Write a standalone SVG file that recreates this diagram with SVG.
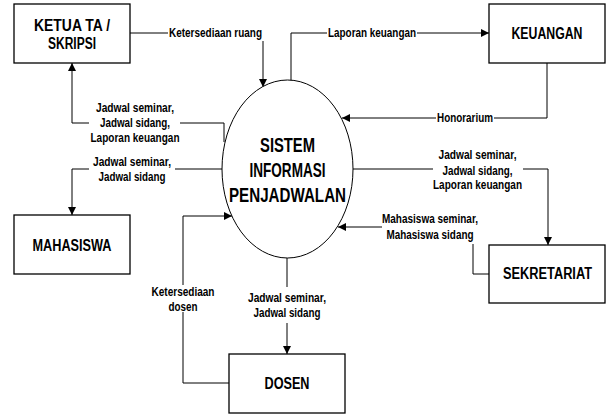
<svg xmlns="http://www.w3.org/2000/svg" width="608" height="414" viewBox="0 0 608 414">
<style>
.box{fill:#fff;stroke:#000;stroke-width:1.3}
.proc{fill:#fff;stroke:#000;stroke-width:1}
.ln{fill:none;stroke:#000;stroke-width:1}
text{font-family:"Liberation Sans",Arial,sans-serif;font-weight:bold;fill:#000;text-anchor:middle}
.t{font-size:17px}
.p{font-size:19.5px}
.l{font-size:12px}
</style>
<defs>
<marker id="arr" viewBox="0 0 10 10" refX="10" refY="5" markerWidth="9" markerHeight="8" markerUnits="userSpaceOnUse" orient="auto">
<path d="M0,0 L10,5 L0,10 z" fill="#000"/>
</marker>
</defs>
<rect width="608" height="414" fill="#fff"/>
<g id="connectors">
<path class="ln" d="M130,33 H168"/>
<path class="ln" d="M263,41 V87" marker-end="url(#arr)"/>
<path class="ln" d="M291,82 V33 H327"/>
<path class="ln" d="M417,33 H489" marker-end="url(#arr)"/>
<path class="ln" d="M547,63 V118 H494"/>
<path class="ln" d="M436,118 H342" marker-end="url(#arr)"/>
<path class="ln" d="M224,142 V123 H180"/>
<path class="ln" d="M89,123 H72 V63" marker-end="url(#arr)"/>
<path class="ln" d="M222,169 H175"/>
<path class="ln" d="M89,169 H72 V215" marker-end="url(#arr)"/>
<path class="ln" d="M353,169 H433"/>
<path class="ln" d="M523,169 H548 V245" marker-end="url(#arr)"/>
<path class="ln" d="M489,274 H473 V244"/>
<path class="ln" d="M382,227 H338" marker-end="url(#arr)"/>
<path class="ln" d="M287,258 V287"/>
<path class="ln" d="M287,323 V354" marker-end="url(#arr)"/>
<path class="ln" d="M229,383 H183 V312"/>
<path class="ln" d="M183,285 V216 H232" marker-end="url(#arr)"/>
<text class="l" x="215.5" y="37" textLength="93" lengthAdjust="spacingAndGlyphs">Ketersediaan ruang</text>
<text class="l" x="372" y="37" textLength="88" lengthAdjust="spacingAndGlyphs">Laporan keuangan</text>
<text class="l" x="465" y="122" textLength="56" lengthAdjust="spacingAndGlyphs">Honorarium</text>
<text class="l" x="135" y="112" textLength="78" lengthAdjust="spacingAndGlyphs">Jadwal seminar,</text>
<text class="l" x="135" y="127" textLength="70" lengthAdjust="spacingAndGlyphs">Jadwal sidang,</text>
<text class="l" x="135" y="142" textLength="89" lengthAdjust="spacingAndGlyphs">Laporan keuangan</text>
<text class="l" x="132" y="166" textLength="78" lengthAdjust="spacingAndGlyphs">Jadwal seminar,</text>
<text class="l" x="132" y="181" textLength="67" lengthAdjust="spacingAndGlyphs">Jadwal sidang</text>
<text class="l" x="477.5" y="159" textLength="78" lengthAdjust="spacingAndGlyphs">Jadwal seminar,</text>
<text class="l" x="477.5" y="175" textLength="70" lengthAdjust="spacingAndGlyphs">Jadwal sidang,</text>
<text class="l" x="477.5" y="189" textLength="89" lengthAdjust="spacingAndGlyphs">Laporan keuangan</text>
<text class="l" x="430" y="223" textLength="96" lengthAdjust="spacingAndGlyphs">Mahasiswa seminar,</text>
<text class="l" x="430" y="239" textLength="87" lengthAdjust="spacingAndGlyphs">Mahasiswa sidang</text>
<text class="l" x="287" y="302" textLength="78" lengthAdjust="spacingAndGlyphs">Jadwal seminar,</text>
<text class="l" x="287" y="317" textLength="67" lengthAdjust="spacingAndGlyphs">Jadwal sidang</text>
<text class="l" x="183" y="296" textLength="63" lengthAdjust="spacingAndGlyphs">Ketersediaan</text>
<text class="l" x="183" y="311" textLength="29" lengthAdjust="spacingAndGlyphs">dosen</text>
</g>
<g id="ketua">
<rect class="box" x="14" y="4" width="116" height="59"/>
<text class="t" transform="translate(72,31) scale(0.82,1)" textLength="92.7" lengthAdjust="spacingAndGlyphs">KETUA TA /</text>
<text class="t" transform="translate(72,49) scale(0.82,1)" textLength="58.5" lengthAdjust="spacingAndGlyphs">SKRIPSI</text>
</g>
<g id="keuangan">
<rect class="box" x="489" y="4" width="116" height="59"/>
<text class="t" transform="translate(547,39) scale(0.82,1)" textLength="86.6" lengthAdjust="spacingAndGlyphs">KEUANGAN</text>
</g>
<g id="mahasiswa">
<rect class="box" x="14" y="215" width="116" height="59"/>
<text class="t" transform="translate(72,251) scale(0.82,1)" textLength="96.3" lengthAdjust="spacingAndGlyphs">MAHASISWA</text>
</g>
<g id="sekretariat">
<rect class="box" x="489" y="245" width="116" height="58"/>
<text class="t" transform="translate(547.5,279) scale(0.82,1)" textLength="108.5" lengthAdjust="spacingAndGlyphs">SEKRETARIAT</text>
</g>
<g id="dosen">
<rect class="box" x="229" y="354" width="116" height="59"/>
<text class="t" transform="translate(287,389) scale(0.82,1)" textLength="54.9" lengthAdjust="spacingAndGlyphs">DOSEN</text>
</g>
<g id="sistem">
<ellipse class="proc" cx="287.5" cy="169" rx="65.5" ry="89"/>
<text class="p" transform="translate(287.5,152) scale(0.82,1)" textLength="67" lengthAdjust="spacingAndGlyphs">SISTEM</text>
<text class="p" transform="translate(287.5,177) scale(0.82,1)" textLength="92.7" lengthAdjust="spacingAndGlyphs">INFORMASI</text>
<text class="p" transform="translate(287.5,202) scale(0.82,1)" textLength="142.7" lengthAdjust="spacingAndGlyphs">PENJADWALAN</text>
</g>
</svg>
